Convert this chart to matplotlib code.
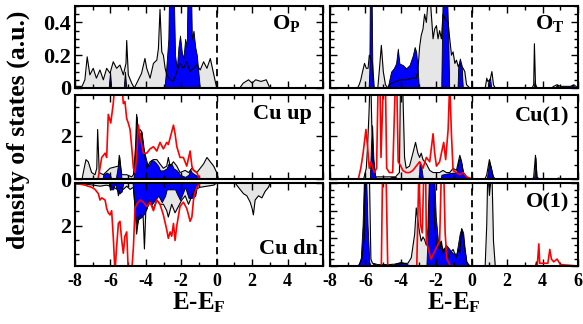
import matplotlib
matplotlib.use('Agg')
import matplotlib.pyplot as plt
from matplotlib.ticker import MultipleLocator, FuncFormatter

# (energy, DOS) pairs
OP_GRAY = [(-8.0, 0.01), (-7.6, 0.01), (-7.44, 0.05), (-7.31, 0.19), (-7.16, 0.08), (-6.97, 0.12),
           (-6.79, 0.06), (-6.59, 0.11), (-6.4, 0.05), (-6.21, 0.12), (-6.02, 0.09), (-5.84, 0.16),
           (-5.65, 0.12), (-5.46, 0.14), (-5.27, 0.08), (-5.12, 0.15), (-5.08, 0.29), (-4.99, 0.08),
           (-4.8, 0.03), (-4.65, 0.0), (-4.42, 0.05), (-4.24, 0.09), (-4.05, 0.18), (-3.95, 0.12),
           (-3.76, 0.06), (-3.57, 0.15), (-3.38, 0.17), (-3.29, 0.24), (-3.2, 0.48), (-3.1, 0.22),
           (-3.01, 0.2), (-2.91, 0.12), (-2.82, 0.08), (-2.63, 0.05), (-2.44, 0.04), (-2.25, 0.1),
           (-2.07, 0.15), (-1.88, 0.12), (-1.69, 0.16), (-1.5, 0.1), (-1.31, 0.12), (-1.12, 0.14),
           (-0.93, 0.11), (-0.74, 0.16), (-0.55, 0.12), (-0.36, 0.18), (-0.2, 0.1), (0.0, 0.0),
           (1.3, 0.0), (1.5, 0.03), (1.8, 0.05), (2.0, 0.03), (2.2, 0.05), (2.5, 0.04), (2.8, 0.05),
           (3.0, 0.0), (6.0, 0.0)]
OP_BLUE = [(-8, 0), (-6.1, 0), (-6.02, 0.1), (-5.95, 0), (-5.25, 0), (-5.18, 0.1), (-5.1, 0),
           (-2.95, 0), (-2.85, 0.12), (-2.73, 0.3), (-2.67, 0.7), (-2.44, 0.7), (-2.35, 0.2),
           (-2.25, 0.12), (-2.16, 0.25), (-2.07, 0.32), (-1.97, 0.22), (-1.88, 0.18), (-1.78, 0.3),
           (-1.69, 0.25), (-1.63, 0.7), (-1.46, 0.7), (-1.4, 0.3), (-1.31, 0.35), (-1.21, 0.25),
           (-1.12, 0.2), (-1.02, 0.08), (-0.95, 0), (6, 0)]

OT_GRAY = [(-8, 0), (-6.45, 0), (-6.35, 0.02), (-6.26, 0.05), (-6.16, 0.1), (-6.05, 0.15),
           (-5.95, 0.12), (-5.85, 0.12), (-5.78, 0.2), (-5.6, 0.15), (-5.5, 0.0), (-5.3, 0.0),
           (-5.22, 0.1), (-5.1, 0.26), (-4.99, 0.1), (-4.87, 0.02), (-4.74, 0.0), (-4.65, 0.02),
           (-4.3, 0.04), (-4.0, 0.05), (-3.7, 0.05), (-3.4, 0.06), (-3.13, 0.06), (-3.04, 0.1),
           (-2.94, 0.25), (-2.85, 0.32), (-2.75, 0.36), (-2.66, 0.45), (-2.56, 0.4), (-2.47, 0.52),
           (-2.37, 0.6), (-2.28, 0.45), (-2.18, 0.3), (-2.09, 0.36), (-1.99, 0.38), (-1.9, 0.3),
           (-1.81, 0.35), (-1.71, 0.3), (-1.62, 0.45), (-1.5, 0.42), (-1.33, 0.4), (-1.24, 0.3),
           (-1.14, 0.2), (-1.05, 0.22), (-0.95, 0.15), (-0.86, 0.17), (-0.76, 0.13), (-0.67, 0.15),
           (-0.57, 0.13), (-0.48, 0.12), (-0.39, 0.1), (-0.29, 0.02), (-0.1, 0.0), (0.76, 0.0),
           (0.81, 0.03), (0.85, 0.06), (0.91, 0.04), (1.04, 0.05), (1.14, 0.1), (1.23, 0.02),
           (1.33, 0.0), (3.41, 0.0), (3.5, 0.02), (3.54, 0.27), (3.6, 0.02), (3.69, 0.0), (4.5, 0.0),
           (4.63, 0.01), (4.82, 0.02), (5.0, 0.01), (5.58, 0.01), (5.77, 0.02), (6.0, 0.0)]
OT_BLUE = [(-8, 0), (-5.82, 0), (-5.78, 0.1), (-5.74, 0.7), (-5.66, 0.7), (-5.6, 0.05), (-5.55, 0),
           (-4.74, 0), (-4.65, 0.05), (-4.55, 0.1), (-4.4, 0.12), (-4.27, 0.15), (-4.17, 0.24),
           (-4.08, 0.15), (-3.89, 0.14), (-3.7, 0.12), (-3.51, 0.14), (-3.32, 0.2), (-3.22, 0.25),
           (-3.13, 0.22), (-3.04, 0.1), (-2.98, 0), (-1.72, 0), (-1.65, 0.5), (-1.6, 0.7),
           (-1.43, 0.7), (-1.33, 0.35), (-1.27, 0), (-0.8, 0), (-0.76, 0.13), (-0.67, 0.18),
           (-0.57, 0.14), (-0.5, 0), (0.9, 0), (0.95, 0.05), (1.04, 0.06), (1.1, 0), (3.5, 0),
           (3.56, 0.05), (3.62, 0), (4.7, 0), (4.82, 0.02), (4.95, 0), (5.5, 0), (5.7, 0.02),
           (5.85, 0), (6, 0)]

CU_UP_GRAY = [(-8, 0), (-7.6, 0), (-7.53, 0.3), (-7.38, 0.9), (-7.25, 0.8), (-7.06, 0.3),
              (-6.87, 0.2), (-6.77, 0.5), (-6.72, 2.3), (-6.63, 0.3), (-6.4, 0.2), (-6.02, 0.5),
              (-5.55, 0.6), (-5.5, 1.1), (-5.36, 0.2), (-5.08, 0.2), (-4.8, 0.1), (-4.7, 0.2),
              (-4.58, 1.5), (-4.52, 3.0), (-4.42, 2.1), (-4.33, 2.3), (-4.24, 2.2), (-4.14, 1.5),
              (-3.95, 0.5), (-3.76, 0.8), (-3.57, 0.9), (-3.38, 0.9), (-3.2, 0.7), (-3.01, 0.5),
              (-2.82, 0.6), (-2.73, 1.0), (-2.63, 0.6), (-2.44, 0.8), (-2.25, 0.6), (-2.07, 0.3),
              (-1.78, 0.4), (-1.59, 0.3), (-1.4, 0.5), (-1.12, 0.3), (-0.93, 0.5), (-0.74, 0.7),
              (-0.55, 1.0), (-0.36, 0.8), (-0.17, 0.6), (0.0, 0.3), (0.1, 0.0), (6, 0)]
CU_UP_BLUE = [(-8, 0), (-6.45, 0), (-6.4, 0.2), (-6.21, 0.3), (-6.02, 0.2), (-5.95, 0), (-5.7, 0),
              (-5.6, 0.5), (-5.5, 1.05), (-5.42, 0.3), (-5.36, 0), (-4.7, 0), (-4.61, 1.0),
              (-4.52, 2.9), (-4.42, 2.0), (-4.36, 2.1), (-4.24, 2.2), (-4.1, 1.3), (-3.95, 0.8),
              (-3.86, 0.6), (-3.67, 0.9), (-3.48, 0.8), (-3.29, 0.6), (-3.2, 0.4), (-3.01, 0.4),
              (-2.82, 0.5), (-2.73, 0.7), (-2.54, 0.7), (-2.44, 0.5), (-2.25, 0.4), (-2.07, 0.2),
              (-1.78, 0.1), (-1.59, 0.2), (-1.5, 0.45), (-1.4, 0.3), (-1.21, 0.2), (-1.02, 0.1),
              (-0.9, 0), (6, 0)]
CU_UP_RED = [(-8, 0), (-6.7, 0), (-6.59, 0.5), (-6.49, 1.0), (-6.3, 1.2), (-6.21, 1.0), (-6.12, 3.0),
             (-5.98, 2.6), (-5.84, 3.5), (-5.74, 4.5), (-5.55, 4.5), (-5.36, 4.5), (-5.27, 3.5),
             (-5.18, 3.6), (-5.08, 2.8), (-4.99, 2.6), (-4.89, 2.3), (-4.8, 1.5), (-4.7, 0.5),
             (-4.61, 0.3), (-4.52, 1.0), (-4.42, 2.5), (-4.33, 2.0), (-4.14, 1.2), (-3.95, 1.2),
             (-3.76, 1.4), (-3.57, 1.5), (-3.38, 1.3), (-3.2, 1.7), (-3.01, 1.4), (-2.82, 1.7),
             (-2.73, 1.6), (-2.63, 1.9), (-2.44, 2.5), (-2.35, 2.1), (-2.25, 1.5), (-2.07, 1.0),
             (-1.88, 1.0), (-1.69, 0.6), (-1.5, 1.3), (-1.4, 0.6), (-1.31, 0.4), (-1.12, 0.3),
             (-1.02, 0.1), (-0.93, 0.0), (6, 0)]

CU_DN_GRAY = [(-8, 0.0), (-7.9, 0.05), (-7.44, 0.05), (-6.97, 0.1), (-6.59, 0.15), (-6.21, 0.1),
              (-5.84, 0.2), (-5.6, 0.3), (-5.55, 0.6), (-5.46, 0.2), (-5.27, 0.3), (-5.08, 0.15),
              (-4.89, 0.3), (-4.7, 0.2), (-4.6, 1.2), (-4.52, 2.4), (-4.42, 1.7), (-4.33, 1.5),
              (-4.15, 1.6), (-4.08, 3.1), (-4.0, 1.3), (-3.95, 1.2), (-3.76, 0.9), (-3.57, 1.2),
              (-3.38, 0.8), (-3.2, 1.0), (-3.01, 1.0), (-2.82, 1.3), (-2.73, 1.6), (-2.54, 1.0),
              (-2.35, 1.4), (-2.16, 1.1), (-1.97, 0.8), (-1.78, 0.6), (-1.59, 1.0), (-1.4, 0.6),
              (-1.21, 0.3), (-0.93, 0.2), (-0.55, 0.15), (-0.17, 0.1), (0.0, 0.0), (1.05, 0.0),
              (1.13, 0.1), (1.32, 0.3), (1.51, 0.5), (1.7, 0.6), (1.89, 0.9), (2.0, 1.2), (2.07, 1.5),
              (2.17, 0.8), (2.36, 0.6), (2.55, 0.7), (2.73, 0.4), (2.92, 0.2), (3.02, 0.0), (6, 0)]
CU_DN_BLUE = [(-8, 0), (-6.1, 0), (-6.02, 0.3), (-5.84, 0.3), (-5.74, 0), (-5.65, 0.3), (-5.5, 0.5),
              (-5.36, 0.4), (-5.27, 0), (-4.75, 0), (-4.61, 1.5), (-4.52, 2.0), (-4.42, 1.7),
              (-4.24, 1.6), (-4.14, 1.5), (-3.95, 1.2), (-3.86, 0.8), (-3.67, 1.0), (-3.48, 0.8),
              (-3.29, 0.6), (-3.1, 0.9), (-2.91, 0.6), (-2.82, 0.3), (-2.35, 0.3), (-2.25, 0.5),
              (-2.07, 0.8), (-1.97, 0.6), (-1.78, 0.2), (-1.59, 0.7), (-1.4, 0.7), (-1.21, 0.6),
              (-1.1, 0.1), (-1.0, 0), (6, 0)]
CU_DN_RED = [(-8, 0), (-7.44, 0.1), (-7.06, 0.2), (-6.87, 0.3), (-6.68, 0.5), (-6.59, 0.8),
             (-6.49, 0.7), (-6.3, 0.8), (-6.21, 1.2), (-6.12, 1.4), (-6.02, 1.5), (-5.93, 1.3),
             (-5.84, 2.5), (-5.74, 4.2), (-5.65, 3.0), (-5.55, 1.9), (-5.46, 1.8), (-5.36, 2.7),
             (-5.27, 3.3), (-5.18, 2.5), (-5.08, 2.3), (-4.99, 4.2), (-4.8, 4.2), (-4.7, 3.0),
             (-4.61, 1.2), (-4.52, 1.0), (-4.33, 0.8), (-4.14, 0.9), (-3.95, 1.1), (-3.76, 0.9),
             (-3.57, 1.3), (-3.38, 0.8), (-3.2, 1.0), (-3.01, 1.5), (-2.82, 2.2), (-2.73, 2.6),
             (-2.63, 2.3), (-2.54, 2.5), (-2.44, 1.9), (-2.35, 2.7), (-2.25, 2.0), (-2.07, 1.1),
             (-1.88, 0.9), (-1.69, 1.2), (-1.59, 1.5), (-1.5, 1.8), (-1.4, 1.6), (-1.31, 0.8),
             (-1.21, 0.4), (-1.12, 0.2), (-0.93, 0.0), (6, 0)]

CU1_GRAY = [(-8, 0), (-6.1, 0), (-5.95, 0.5), (-5.88, 1.5), (-5.8, 3.0), (-5.74, 4.5), (-5.69, 4.5),
            (-5.64, 2.5), (-5.55, 0.5), (-5.41, 0.1), (-4.3, 0.1), (-4.08, 0.3), (-4.02, 4.5),
            (-3.9, 4.5), (-3.79, 1.0), (-3.7, 0.5), (-3.51, 0.6), (-3.32, 1.2), (-3.17, 1.7),
            (-3.04, 1.2), (-2.94, 1.0), (-2.85, 1.2), (-2.75, 0.9), (-2.56, 0.7), (-2.37, 0.4),
            (-2.18, 0.3), (-1.99, 0.3), (-1.81, 0.3), (-1.62, 0.4), (-1.43, 0.3), (-1.24, 0.3),
            (-1.05, 0.5), (-0.86, 0.4), (-0.67, 1.1), (-0.57, 0.8), (-0.48, 0.3), (-0.29, 0.1),
            (0.0, 0.0), (0.75, 0.0), (0.85, 0.2), (1.0, 0.9), (1.1, 0.5), (1.23, 0.1), (1.33, 0.0),
            (3.45, 0.0), (3.5, 0.1), (3.6, 1.1), (3.69, 0.1), (3.8, 0.0), (4.8, 0.0), (4.9, 0.05),
            (5.0, 0.0), (6, 0)]
CU1_BLUE = [(-8, 0), (-5.75, 0), (-5.69, 1.5), (-5.62, 2.5), (-5.55, 1.0), (-5.45, 0.1), (-5.3, 0),
            (-4.65, 0), (-4.55, 0.1), (-4.3, 0.1), (-4.2, 0), (-2.98, 0), (-2.94, 0.8), (-2.85, 0.6),
            (-2.75, 0), (-1.75, 0), (-1.71, 0.2), (-1.43, 0.25), (-1.05, 0.3), (-0.86, 0.3),
            (-0.76, 0.8), (-0.67, 1.0), (-0.57, 0.7), (-0.48, 0.3), (-0.39, 0.2), (-0.29, 0.1),
            (-0.2, 0), (0.85, 0), (0.95, 0.6), (1.0, 0.8), (1.1, 0.5), (1.2, 0), (3.52, 0),
            (3.6, 1.0), (3.66, 0), (6, 0)]
CU1_RED = [(-8, 0), (-6.4, 0), (-6.26, 0.5), (-6.13, 1.2), (-5.97, 2.3), (-5.88, 1.5), (-5.78, 0.5),
           (-5.69, 0.8), (-5.5, 0.3), (-5.37, 0.5), (-5.28, 4.5), (-5.18, 4.5), (-5.12, 1.0),
           (-4.99, 4.5), (-4.87, 4.5), (-4.8, 0.5), (-4.65, 0.3), (-4.46, 0.3), (-4.31, 4.5),
           (-4.23, 4.5), (-4.15, 0.8), (-4.0, 0.6), (-3.89, 0.4), (-3.7, 0.3), (-3.51, 0.3),
           (-3.32, 0.4), (-3.13, 0.6), (-2.94, 0.8), (-2.75, 0.5), (-2.56, 1.0), (-2.37, 0.8),
           (-2.18, 2.1), (-2.09, 1.2), (-1.99, 0.6), (-1.81, 0.8), (-1.71, 1.2), (-1.58, 1.7),
           (-1.47, 0.9), (-1.33, 2.3), (-1.24, 4.5), (-1.14, 2.0), (-1.05, 0.4), (-0.86, 0.3),
           (-0.67, 0.2), (-0.48, 0.3), (-0.29, 0.1), (0.0, 0.0), (6, 0)]

O1_GRAY = [(-8, 0), (-6.45, 0), (-6.35, 0.01), (-6.2, 0.05), (-6.07, 0.2), (-6.01, 0.7), (-5.78, 0.7),
           (-5.69, 0.05), (-5.6, 0.02), (-5.3, 0.01), (-4.7, 0.01), (-3.6, 0.02), (-3.41, 0.06),
           (-3.22, 0.23), (-3.13, 0.42), (-3.04, 0.33), (-2.94, 0.24), (-2.85, 0.18), (-2.75, 0.21),
           (-2.66, 0.19), (-2.56, 0.15), (-2.47, 0.27), (-2.37, 0.7), (-2.18, 0.7), (-2.09, 0.3),
           (-1.99, 0.15), (-1.81, 0.12), (-1.71, 0.18), (-1.62, 0.09), (-1.43, 0.15), (-1.33, 0.06),
           (-1.24, 0.09), (-1.05, 0.12), (-0.86, 0.06), (-0.76, 0.12), (-0.67, 0.09), (-0.57, 0.27),
           (-0.48, 0.21), (-0.39, 0.12), (-0.29, 0.03), (-0.1, 0.0), (0.76, 0.0), (0.85, 0.3),
           (0.91, 0.7), (1.0, 0.51), (1.14, 0.7), (1.23, 0.18), (1.33, 0.0), (3.6, 0.0),
           (3.65, 0.03), (3.7, 0.0), (6, 0)]
O1_BLUE = [(-8, 0), (-6.4, 0), (-6.26, 0.06), (-6.16, 0.3), (-6.07, 0.7), (-5.97, 0.7), (-5.88, 0.3),
           (-5.78, 0.03), (-5.7, 0), (-5.5, 0.02), (-5.4, 0.0), (-4.5, 0), (-4.3, 0.02), (-4.0, 0.03),
           (-3.7, 0.02), (-3.5, 0), (-2.56, 0), (-2.47, 0.27), (-2.37, 0.7), (-2.13, 0.7),
           (-2.03, 0.36), (-1.9, 0.18), (-1.81, 0.18), (-1.62, 0.12), (-1.43, 0.15), (-1.24, 0.12),
           (-1.05, 0.09), (-0.86, 0.09), (-0.67, 0.24), (-0.57, 0.27), (-0.48, 0.24), (-0.39, 0.12),
           (-0.29, 0.03), (-0.2, 0), (6, 0)]
O1_RED = [(-8, 0), (-5.1, 0), (-5.03, 0.7), (-4.84, 0.7), (-4.74, 0), (-3.1, 0), (-3.07, 0.18),
          (-2.98, 0.7), (-2.89, 0.3), (-2.79, 0.24), (-2.7, 0.7), (-2.6, 0.7), (-2.56, 0.18),
          (-2.3, 0.05), (-1.81, 0.18), (-1.71, 0.7), (-1.58, 0.7), (-1.5, 0.24), (-1.4, 0.05),
          (-1.2, 0.0), (3.7, 0), (3.79, 0.16), (3.84, 0.02), (4.3, 0.02), (4.41, 0.12), (4.5, 0.05),
          (4.63, 0.03), (4.82, 0.05), (5.01, 0.01), (6, 0)]

plt.rcParams['font.family'] = 'Liberation Serif'
plt.rcParams['font.weight'] = 'bold'
plt.rcParams['axes.unicode_minus'] = False
plt.rcParams['mathtext.fontset'] = 'custom'
plt.rcParams['mathtext.rm'] = 'Liberation Serif:bold'
plt.rcParams['mathtext.it'] = 'Liberation Serif:bold'
plt.rcParams['mathtext.bf'] = 'Liberation Serif:bold'

fig = plt.figure(figsize=(5.83, 3.24), dpi=100)

xl, xr, w = 0.1286, 0.566, 0.4254
rows = [(0.7284, 0.2531), (0.4475, 0.2593), (0.179, 0.2562)]


def draw(ax, gray, blue, red=None):
    e, v = zip(*gray)
    ax.fill_between(e, 0, v, color='#e6e6e6', lw=0)
    eb, vb = zip(*blue)
    ax.fill_between(eb, 0, vb, facecolor='#0000ff', edgecolor='black', lw=0.6)
    ax.plot(e, v, color='black', lw=0.8)
    if red is not None:
        er, vr = zip(*red)
        ax.plot(er, vr, color='red', lw=1.2)
    ax.axvline(0, color='black', ls=(0, (4, 2.5)), lw=1.3)
    ax.set_xlim(-8, 6)
    ax.xaxis.set_major_locator(MultipleLocator(2))
    ax.xaxis.set_minor_locator(MultipleLocator(1))
    ax.tick_params(which='both', direction='in', top=True, right=True, width=1)
    ax.tick_params(which='major', length=5, labelsize=13, pad=5)
    ax.tick_params(which='minor', length=3)
    for s in ax.spines.values():
        s.set_linewidth(1.5)


panels = [
    (xl, 0, OP_GRAY, OP_BLUE, None, r'O$_\mathrm{P}$'),
    (xr, 0, OT_GRAY, OT_BLUE, None, r'O$_\mathrm{T}$'),
    (xl, 1, CU_UP_GRAY, CU_UP_BLUE, CU_UP_RED, 'Cu up'),
    (xr, 1, CU1_GRAY, CU1_BLUE, CU1_RED, 'Cu(1)'),
    (xl, 2, CU_DN_GRAY, CU_DN_BLUE, CU_DN_RED, 'Cu dn'),
    (xr, 2, O1_GRAY, O1_BLUE, O1_RED, 'O(1)'),
]
label_pos = {r'O$_\mathrm{P}$': (0.91, 0.72), r'O$_\mathrm{T}$': (0.945, 0.72),
             'Cu up': (0.955, 0.72), 'Cu(1)': (0.965, 0.68),
             'Cu dn': (0.98, 0.15), 'O(1)': (0.965, 0.70)}

for x0, r, g, b, red, name in panels:
    y0, h = rows[r]
    ax = fig.add_axes([x0, y0, w, h])
    draw(ax, g, b, red)
    left = x0 == xl
    if name.startswith('O$'):
        ax.set_ylim(0, 0.5)
        ax.yaxis.set_major_locator(MultipleLocator(0.2))
        ax.yaxis.set_minor_locator(MultipleLocator(0.05))
    elif name == 'O(1)':
        ax.set_ylim(0, 0.6)
        ax.yaxis.set_major_locator(MultipleLocator(0.2))
        ax.yaxis.set_minor_locator(MultipleLocator(0.05))
    else:
        ax.set_ylim(0, 3.9)
        ax.yaxis.set_major_locator(MultipleLocator(2))
        ax.yaxis.set_minor_locator(MultipleLocator(2 / 3))
    if name == 'Cu dn':
        ax.invert_yaxis()
    if left:
        if name == 'Cu dn':
            ax.yaxis.set_major_formatter(FuncFormatter(lambda v, p: '' if abs(v) < 1e-6 else '%g' % v))
        else:
            ax.yaxis.set_major_formatter(FuncFormatter(lambda v, p: '%g' % v))
        ax.tick_params(axis='y', labelsize=16, pad=3)
    else:
        ax.set_yticklabels([])
    if r == 2:
        if left:
            ax.xaxis.set_major_formatter(FuncFormatter(lambda v, p: '' if v > 5 else '%g' % v))
        else:
            ax.xaxis.set_major_formatter(FuncFormatter(lambda v, p: '%g' % v))
        fig.text(x0 + w / 2, 0.045, r'E-E$_\mathrm{F}$', ha='center', va='baseline', fontsize=18)
    else:
        ax.set_xticklabels([])
    lx, ly = label_pos[name]
    ax.text(lx, ly, name, transform=ax.transAxes, ha='right', va='baseline', fontsize=16)

fig.text(0.032, 0.6, 'density of states (a.u.)', rotation=90, ha='center', va='center', fontsize=18.5)

fig.savefig('out.png', dpi=100)
